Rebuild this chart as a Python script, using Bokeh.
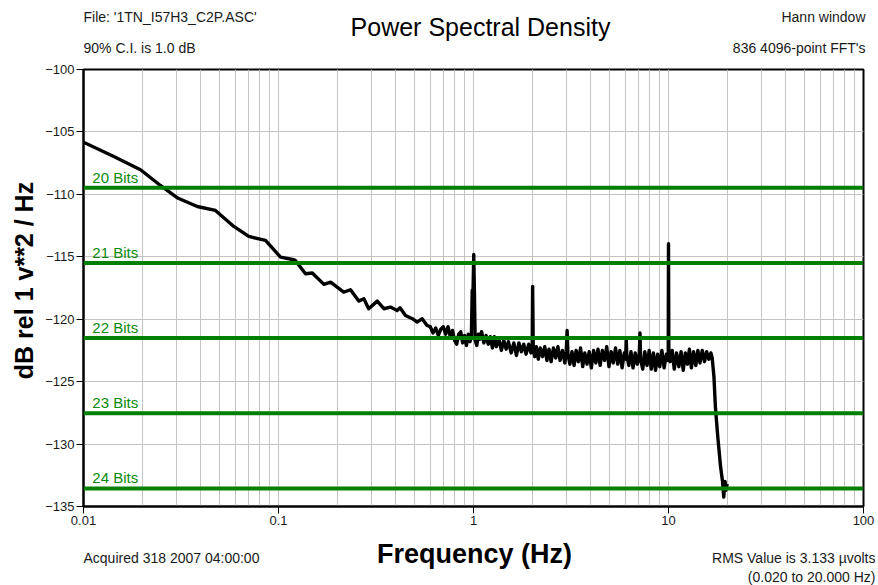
import math
from bokeh.plotting import figure
from bokeh.layouts import column, row
from bokeh.models import FixedTicker, Label, Span, Range1d, CustomJSTickFormatter, ColumnDataSource
from bokeh.embed import file_html
from bokeh.resources import INLINE

# ---- data ----
freq = [0.0100, 0.0143, 0.0196, 0.0248, 0.0302, 0.0383, 0.0475, 0.0590, 0.0704, 0.0858,
        0.1024, 0.1198, 0.1220, 0.1375, 0.149, 0.171, 0.185, 0.216, 0.234, 0.258,
        0.274, 0.290, 0.321, 0.347, 0.375, 0.406, 0.420, 0.448, 0.486, 0.514,
        0.545, 0.578,
        0.60, 0.62, 0.64, 0.66, 0.68, 0.70, 0.72, 0.74, 0.76, 0.78,
        0.80, 0.82, 0.84, 0.86, 0.88, 0.90, 0.92, 0.94, 0.96, 0.975,
        0.985, 0.995, 1.003, 1.010, 1.02, 1.04, 1.06, 1.08, 1.10, 1.13,
        1.16, 1.19, 1.22, 1.25, 1.28, 1.31, 1.35, 1.39, 1.43, 1.47,
        1.51, 1.56, 1.61, 1.66, 1.71, 1.76, 1.81, 1.86, 1.92, 1.97,
        2.00, 2.01, 2.025, 2.06, 2.10, 2.15, 2.20, 2.26, 2.32, 2.38,
        2.44, 2.50, 2.57, 2.64, 2.71, 2.78, 2.86, 2.94, 2.99, 3.02,
        3.05, 3.12, 3.20, 3.28, 3.36, 3.45, 3.54, 3.63, 3.72, 3.82,
        3.92, 4.02, 4.13, 4.24, 4.35, 4.46, 4.58, 4.70, 4.82, 4.95,
        5.08, 5.21, 5.35, 5.49, 5.63, 5.78, 5.93, 6.03, 6.07, 6.11,
        6.26, 6.42, 6.58, 6.75, 6.92, 7.08, 7.14, 7.20, 7.38, 7.56,
        7.76, 7.96, 8.16, 8.37, 8.58, 8.80, 9.02, 9.25, 9.50, 9.75,
        9.90, 9.97, 10.0, 10.04, 10.2, 10.45, 10.7, 11.0, 11.3, 11.6,
        11.9, 12.2, 12.5, 12.8, 13.1, 13.45, 13.8, 14.15, 14.5, 14.9,
        15.3, 15.7, 16.1, 16.5, 16.75, 17.1, 17.4, 17.9, 18.5, 18.9,
        19.2, 19.5, 19.7, 20.0]
psd = [-105.82, -106.97, -108.03, -109.29, -110.27, -110.97, -111.29, -112.57, -113.37, -113.69,
       -115.03, -115.24, -115.29, -116.36, -116.30, -117.21, -117.03, -117.83, -117.64, -118.55,
       -118.36, -119.16, -118.55, -119.16, -119.03, -119.30, -119.08, -119.70, -119.96, -120.23,
       -119.96, -120.50,
       -120.6, -121.1, -120.7, -121.3, -120.8, -120.6, -121.2, -120.6, -121.4, -120.9,
       -121.7, -122.0, -121.2, -121.0, -121.9, -121.3, -122.1, -121.2, -121.8, -121.4,
       -117.7, -117.6, -114.81, -117.5, -121.7, -122.1, -121.2, -121.6, -121.0, -121.9,
       -121.3, -122.0, -121.4, -122.3, -121.4, -122.2, -121.6, -122.5, -121.7, -122.4,
       -121.8, -122.7, -121.9, -122.9, -121.9, -122.6, -122.0, -122.8, -122.0, -122.7,
       -122.2, -117.37, -122.3, -123.0, -122.2, -123.2, -122.3, -123.0, -122.2, -123.3,
       -122.4, -123.4, -122.3, -123.1, -122.2, -123.3, -122.5, -123.5, -122.6, -120.9,
       -122.8, -123.6, -122.6, -123.7, -122.5, -123.4, -122.3, -123.8, -122.7, -123.6,
       -122.6, -123.9, -122.5, -123.5, -122.4, -123.7, -122.5, -123.3, -122.2, -123.8,
       -122.6, -123.5, -122.3, -123.6, -122.5, -123.9, -122.7, -123.2, -121.56, -122.9,
       -123.7, -122.6, -123.9, -122.7, -123.6, -122.8, -121.1, -123.3, -124.0, -122.6,
       -123.7, -122.5, -124.0, -122.7, -124.1, -122.8, -123.8, -122.5, -123.9, -122.8,
       -123.3, -122.6, -113.96, -122.6, -123.4, -122.5, -124.0, -122.7, -123.8, -122.6,
       -124.1, -122.7, -123.6, -122.4, -123.9, -122.6, -123.7, -122.5, -123.5, -122.5,
       -123.4, -122.6, -123.2, -122.7, -123.1, -124.6, -127.04, -129.44, -131.84, -132.91,
       -134.24, -133.0, -133.7, -133.2]

bit_names = ["20 Bits", "21 Bits", "22 Bits", "23 Bits", "24 Bits"]
bit_levels = [-109.47, -115.49, -121.51, -127.53, -133.55]

x_ticks = [0.01, 0.1, 1, 10, 100]
y_ticks = [-135, -130, -125, -120, -115, -110, -105, -100]
x_minor = [m * d for d in [0.01, 0.1, 1, 10] for m in range(2, 10)]

FONT = "Liberation Sans"
TXT = "#1a1a1a"
W = 878
LEFT_W = 40


def text_fig(w, h, xr, yr, **kw):
    f = figure(width=w, height=h, x_range=Range1d(*xr), y_range=Range1d(*yr),
               output_backend="svg", toolbar_location=None,
               x_axis_location=None, y_axis_location=None,
               outline_line_color=None, **kw)
    f.xgrid.visible = False
    f.ygrid.visible = False
    return f


def lab(f, text, x, y, size="14px", align="left", style="normal", color=TXT, angle=0.0):
    f.add_layout(Label(x=x, y=y, text=text, text_font=FONT, text_font_size=size,
                       text_align=align, text_baseline="middle", angle=angle,
                       text_font_style=style, text_color=color))


# ---- top text band (page rows 0..61, y measured upward from row 61) ----
top = text_fig(W, 61, (0, W), (0, 61), min_border=0)
lab(top, "File: '1TN_I57H3_C2P.ASC'", 83, 45)
lab(top, "90% C.I. is 1.0 dB", 83, 14)
lab(top, "Power Spectral Density", 480, 35, size="25px", align="center", color="black")
lab(top, "Hann window", 865, 45, align="right")
lab(top, "836 4096-point FFT's", 865, 14, align="right")

# ---- left band holding the y-axis title (same vertical borders as the plot) ----
left = text_fig(LEFT_W, 472, (0, LEFT_W), (79, 516),
                min_border_left=0, min_border_right=0, min_border_top=8, min_border_bottom=27)
lab(left, "dB rel 1 v**2 / Hz", 23, 305, size="25px", align="center", style="bold",
    color="black", angle=math.pi / 2)

# ---- main plot ----
p = figure(width=W - LEFT_W, height=472, x_axis_type="log",
           x_range=Range1d(0.01, 100), y_range=Range1d(-135, -100),
           output_backend="svg", toolbar_location=None,
           min_border_left=83 - LEFT_W, min_border_right=15, min_border_top=8, min_border_bottom=27,
           background_fill_color="white", border_fill_color="white")

p.outline_line_color = "black"
p.outline_line_width = 2

p.xaxis.ticker = FixedTicker(ticks=x_ticks, minor_ticks=x_minor)
p.yaxis.ticker = FixedTicker(ticks=y_ticks, minor_ticks=[])
p.xaxis.formatter = CustomJSTickFormatter(code="return tick.toString();")
for ax in (p.xaxis, p.yaxis):
    ax.axis_line_color = "black"
    ax.axis_line_width = 2
    ax.major_tick_in = 0
    ax.major_tick_out = 7
    ax.major_tick_line_color = "black"
    ax.minor_tick_line_color = None
    ax.major_label_text_font = FONT
    ax.major_label_text_font_size = "13px"
    ax.major_label_text_color = TXT
    ax.major_label_standoff = 2

p.xgrid.grid_line_color = "#c4c4c4"
p.xgrid.minor_grid_line_color = "#c4c4c4"
p.ygrid.grid_line_color = "#c4c4c4"

src = ColumnDataSource(data=dict(f=freq, db=psd))
p.line("f", "db", source=src, line_color="black", line_width=3.4, line_join="round")

for name, lvl in zip(bit_names, bit_levels):
    p.add_layout(Span(location=lvl, dimension="width", line_color="#008000", line_width=4))
    p.add_layout(Label(x=0.0111, y=lvl, y_offset=2, text=name, text_font=FONT,
                       text_font_size="15px", text_color="#0a8a0a",
                       text_baseline="bottom", text_align="left"))

# ---- bottom text band (page rows 533..585, y measured upward from row 585) ----
bot = text_fig(W, 52, (0, W), (0, 52), min_border=0)
lab(bot, "Frequency (Hz)", 474, 32, size="27px", align="center", style="bold", color="black")
lab(bot, "Acquired 318 2007 04:00:00", 83, 28)
lab(bot, "RMS Value is 3.133 \u00b5volts", 875, 28, align="right")
lab(bot, "(0.020 to 20.000 Hz)", 875, 9, align="right")

layout = column(row(top), row(left, p), row(bot), spacing=0)
open("out.html", "w").write(file_html(layout, INLINE))
